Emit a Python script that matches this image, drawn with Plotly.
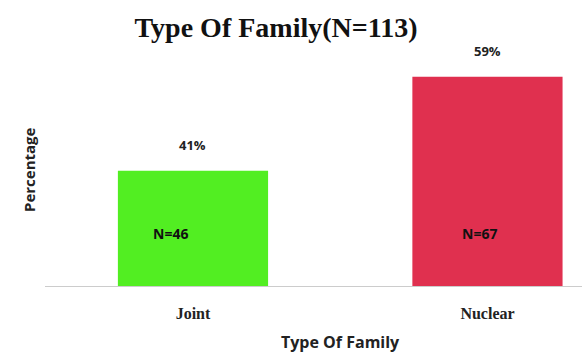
import plotly.graph_objects as go

categories = ["Joint", "Nuclear"]
percentages = [41, 59]
counts = [46, 67]
colors = ["#52EE22", "#E0304F"]
title_text = "Type Of Family(N=113)"
x_title = "Type Of Family"
y_title = "Percentage"

fig = go.Figure()
fig.add_trace(go.Bar(
    x=categories, y=percentages, width=0.51,
    marker=dict(color=colors, line=dict(width=0)),
    hoverinfo="skip", showlegend=False,
))

sans = "Open Sans"
serif = "Liberation Serif"

for c, p, n in zip(categories, percentages, counts):
    fig.add_annotation(x=c, y=p, xref="x", yref="y", text=f"<b>{p}%</b>",
                       showarrow=False, yanchor="bottom", yshift=15,
                       font=dict(family=sans, size=13, color="#222"))
    fig.add_annotation(x=c, y=19, xref="x", yref="y", text=f"<b>N={n}</b>",
                       showarrow=False, yanchor="middle", yshift=53,
                       xshift=-22 if c == "Joint" else -8,
                       font=dict(family=sans, size=14, color="#111"))

# x-axis title
fig.add_annotation(x=(340 - 45) / 537, y=0, xref="paper", yref="paper", text=f"<b>{x_title}</b>",
                   showarrow=False, yanchor="middle", yshift=-56,
                   font=dict(family=sans, size=16, color="#222"))
# y-axis title
fig.add_annotation(x=0, y=0, xref="paper", yref="paper", text=f"<b>{y_title}</b>",
                   showarrow=False, textangle=-90, xanchor="center", yanchor="middle",
                   xshift=-16, yshift=116,
                   font=dict(family=sans, size=15, color="#222"))

fig.update_layout(
    width=582, height=355,
    margin=dict(l=45, r=0, t=40, b=69),
    paper_bgcolor="white", plot_bgcolor="white",
    title=dict(text=f"<b>{title_text}</b>", x=276 / 582, xanchor="center", y=1 - 27 / 355, yanchor="middle",
               font=dict(family=serif, size=28, color="#111")),
    xaxis=dict(range=[-0.5025, 1.321], showgrid=False, showline=True, linecolor="#cccccc", linewidth=1,
               ticks="", ticklabelstandoff=13,
               tickfont=dict(family=serif, size=16, color="#222", weight="bold"),
               zeroline=False),
    yaxis=dict(range=[19, 66], showgrid=False, showticklabels=False, zeroline=False, showline=False),
)

fig.write_html("out.html")
